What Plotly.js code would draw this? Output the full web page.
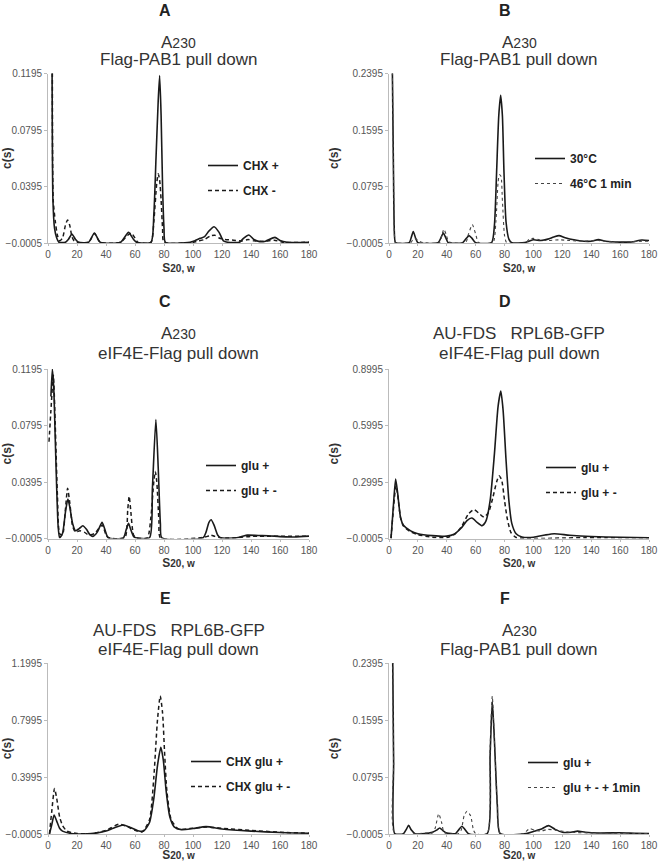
<!DOCTYPE html>
<html lang="en">
<head>
    <meta charset="UTF-8">
    <title>c(s) distributions</title>
    <script src="https://cdn.plot.ly/plotly-3.0.1.min.js"></script>
    <style>
        body { margin: 0; background: #fff; }
        #chart { width: 660px; height: 862px; }
    </style>
</head>
<body>
<div id="chart"></div>
<script>
    // panel A: Flag-PAB1 pull down, CHX + / CHX -
    var aSolidX = [2.8, 3.4, 4.5, 6, 7.5, 12, 14, 16.5, 19, 21, 28, 32, 36, 50, 55.5, 59, 61, 71, 73, 74.5, 76, 77, 78, 79, 80, 81, 98, 101, 105, 108, 111, 114.5, 118, 121, 124, 132, 135, 138.5, 142, 146, 150, 156.5, 160, 165, 180];
    var aSolidY = [0.13, 0.03, 0.01, 0.003, 0, 0, 0.002, 0.0058, 0.002, 0, 0, 0.0066, 0, 0, 0.007, 0.002, 0, 0, 0.02, 0.06, 0.1, 0.118, 0.09, 0.04, 0.01, 0, 0, 0.001, 0.0028, 0.004, 0.008, 0.011, 0.007, 0.001, 0, 0, 0.003, 0.0052, 0.002, 0.0005, 0.0008, 0.0035, 0.0012, 0, 0];
    var aDashX = [3, 3.6, 5, 6.5, 8, 10, 12, 13.5, 15, 16.5, 18, 20, 28, 32, 36, 50, 55, 57.5, 60, 62, 71, 73, 75, 76, 77, 78, 79, 80, 100, 104, 108, 112, 115, 118, 122, 128, 134, 138, 142, 150, 156, 162, 180];
    var aDashY = [0.13, 0.03, 0.015, 0.005, 0.001, 0.003, 0.012, 0.0158, 0.012, 0.004, 0.001, 0, 0, 0.0062, 0, 0, 0.005, 0.0065, 0.003, 0, 0, 0.015, 0.042, 0.0485, 0.044, 0.03, 0.01, 0, 0, 0.001, 0.002, 0.0045, 0.005, 0.003, 0.002, 0.0015, 0.001, 0.002, 0.001, 0.0008, 0.0015, 0, 0];

    // panel B: Flag-PAB1 pull down, 30°C / 46°C 1 min
    var bSolidX = [2.3, 3, 3.8, 4.5, 14, 15.5, 16.8, 18.5, 20, 34, 36, 37.6, 39.5, 41, 51, 53.5, 55.4, 57.5, 60, 71, 73, 74.5, 76, 77.3, 78.5, 79.6, 81, 83, 85, 94, 97, 100, 105, 110, 114, 117.7, 122, 128, 135, 140, 145, 150, 160, 168, 175, 180];
    var bSolidY = [0.25, 0.12, 0.01, 0, 0, 0.008, 0.0156, 0.006, 0, 0, 0.007, 0.0137, 0.006, 0, 0, 0.006, 0.01, 0.006, 0, 0, 0.025, 0.1, 0.18, 0.2086, 0.18, 0.1, 0.03, 0.005, 0, 0, 0.002, 0.004, 0.003, 0.005, 0.008, 0.01, 0.007, 0.004, 0.002, 0.002, 0.0043, 0.002, 0.0008, 0.001, 0.0038, 0.003];
    var bDotX = [2.3, 3, 3.8, 4.5, 15, 16.5, 18, 20, 22, 24, 35, 36.5, 38, 39.5, 41.5, 53, 55, 57.7, 60, 62, 72, 74, 75.5, 76.4, 77.5, 78.5, 80, 81.5, 95, 97, 100, 104, 110, 118, 125, 135, 145, 155, 165, 175, 180];
    var bDotY = [0.25, 0.12, 0.01, 0, 0, 0.004, 0.006, 0.003, 0.001, 0, 0, 0.01, 0.019, 0.012, 0.001, 0, 0.012, 0.0255, 0.012, 0, 0, 0.03, 0.085, 0.096, 0.094, 0.06, 0.01, 0, 0, 0.005, 0.006, 0.004, 0.003, 0.004, 0.003, 0.002, 0.003, 0.001, 0.001, 0.002, 0.002];

    // panel C: eIF4E-Flag pull down, glu + / glu + -
    var cSolidX = [2, 3, 4, 5, 6, 7, 8, 10, 12, 13.7, 15, 17, 19, 21.5, 24, 26.5, 29, 31, 34, 37.3, 39.5, 41.5, 52, 54, 55.5, 57, 59, 60.5, 70, 72, 74.4, 76, 77.5, 78.5, 107, 109, 111, 112.5, 114.5, 117, 119, 130, 134, 137.5, 145, 152, 160, 170, 180];
    var cSolidY = [0.1, 0.1195, 0.105, 0.07, 0.035, 0.008, 0, 0.003, 0.018, 0.0275, 0.022, 0.01, 0.005, 0.0065, 0.0085, 0.006, 0.002, 0.001, 0.004, 0.011, 0.005, 0, 0, 0.006, 0.0102, 0.006, 0.001, 0, 0, 0.035, 0.0838, 0.05, 0.01, 0, 0, 0.004, 0.011, 0.0128, 0.009, 0.002, 0, 0, 0.001, 0.0019, 0.0016, 0.0015, 0.0008, 0.0006, 0.0012];
    var cDashX = [0.7, 2, 3.7, 5, 6.5, 8, 10, 12, 13.5, 15, 17, 19, 22, 25, 28, 32, 35, 37.5, 40, 42, 53, 55, 56, 57, 59, 61, 68.5, 71, 73, 74, 75, 76.5, 77.5, 105, 110, 112, 115, 120, 130, 140, 180];
    var cDashY = [0.068, 0.09, 0.115, 0.08, 0.03, 0.003, 0.002, 0.02, 0.035, 0.025, 0.008, 0.004, 0.005, 0.004, 0.002, 0.003, 0.0065, 0.009, 0.002, 0, 0, 0.02, 0.0295, 0.02, 0.002, 0, 0, 0.015, 0.04, 0.047, 0.04, 0.012, 0, 0, 0.001, 0.002, 0.001, 0, 0, 0.001, 0.001];

    // panel D: AU-FDS RPL6B-GFP, eIF4E-Flag pull down, glu + / glu + -
    var dSolidX = [1.4, 3, 4.6, 6, 8, 10, 15, 20, 30, 40, 45, 50, 54, 57.4, 61, 64.4, 67, 70, 73, 75.5, 77.4, 79, 81, 83, 85, 88, 92, 100, 108, 114.4, 125, 140, 160, 180];
    var dSolidY = [0, 0.17, 0.315, 0.24, 0.11, 0.07, 0.04, 0.025, 0.015, 0.012, 0.022, 0.055, 0.095, 0.108, 0.085, 0.067, 0.09, 0.2, 0.45, 0.7, 0.782, 0.68, 0.42, 0.2, 0.08, 0.025, 0.008, 0.006, 0.018, 0.025, 0.017, 0.01, 0.006, 0.003];
    var dDashX = [1.4, 3, 4.8, 6, 8, 10, 15, 20, 30, 40, 45, 50, 55, 58.8, 62, 65.8, 69, 72, 74.5, 76.2, 78, 80, 82, 84.5, 88, 95, 110, 120, 135, 150, 165, 180];
    var dDashY = [0, 0.15, 0.28, 0.23, 0.11, 0.065, 0.035, 0.02, 0.006, 0.005, 0.02, 0.06, 0.13, 0.153, 0.135, 0.113, 0.14, 0.22, 0.3, 0.333, 0.31, 0.2, 0.1, 0.03, 0.005, 0, 0, 0.002, 0.004, 0.004, 0.003, 0.003];

    // panel E: AU-FDS RPL6B-GFP, eIF4E-Flag pull down, CHX glu + / CHX glu + -
    var eSolidX = [1, 2.5, 4.2, 6, 8, 10, 15, 20, 30, 40, 45, 51.7, 57, 62, 66, 70, 73, 75.5, 77.8, 79.5, 81.5, 84, 87, 92, 100, 109, 120, 140, 160, 180];
    var eSolidY = [0, 0.06, 0.133, 0.09, 0.04, 0.02, 0.005, 0, 0.002, 0.02, 0.04, 0.063, 0.045, 0.022, 0.02, 0.08, 0.25, 0.48, 0.608, 0.52, 0.3, 0.12, 0.05, 0.03, 0.038, 0.051, 0.035, 0.02, 0.01, 0.005];
    var eDashX = [1, 2.5, 4.5, 6, 8, 10, 13, 20, 30, 40, 48.9, 55, 60, 65, 70, 73, 75.5, 77.4, 79, 80.5, 82, 85, 90, 100, 110, 120, 140, 160, 180];
    var eDashY = [0, 0.15, 0.318, 0.25, 0.12, 0.06, 0.02, 0.003, 0.002, 0.025, 0.068, 0.05, 0.025, 0.015, 0.1, 0.4, 0.8, 0.968, 0.85, 0.55, 0.3, 0.1, 0.035, 0.04, 0.048, 0.04, 0.025, 0.012, 0.005];

    // panel F: Flag-PAB1 pull down, glu + / glu + - + 1min
    var fSolidX = [2.5, 3.2, 4, 10, 12, 13.6, 15.5, 18, 25, 30, 33, 35.1, 37.5, 40, 46, 48.5, 50.5, 52.5, 55, 68, 70, 71.5, 73, 75, 77, 95, 100, 105, 110.5, 115, 120, 126, 130.5, 136, 145, 160, 170, 180];
    var fSolidY = [0.26, 0.1, 0, 0, 0.006, 0.0117, 0.005, 0, 0, 0.002, 0.005, 0.008, 0.004, 0.001, 0, 0.006, 0.0103, 0.006, 0, 0, 0.11, 0.186, 0.13, 0.04, 0, 0, 0.003, 0.006, 0.0112, 0.006, 0.002, 0.002, 0.0035, 0.002, 0.001, 0.0012, 0.0005, 0];
    var fDotX = [2.5, 3.2, 4, 20, 25, 30, 32, 34.4, 36.5, 38, 40, 48, 50, 52, 54, 56.5, 58.5, 60, 68, 70, 71.5, 73, 75, 77, 93, 97.4, 102, 106, 110, 115, 125, 140, 180];
    var fDotY = [0.26, 0.1, 0, 0, 0.001, 0.001, 0.008, 0.028, 0.015, 0.002, 0, 0, 0.005, 0.025, 0.0314, 0.025, 0.005, 0, 0, 0.12, 0.193, 0.13, 0.04, 0, 0, 0.007, 0.004, 0.004, 0.006, 0.005, 0.002, 0.001, 0];

    var panelLetters = ['A', 'B', 'C', 'D', 'E', 'F'];
    var titleLine1 = [
        'A<span style="font-size:14px">230</span>',
        'A<span style="font-size:14px">230</span>',
        'A<span style="font-size:14px">230</span>',
        'AU-FDS\u00a0\u00a0\u00a0RPL6B-GFP',
        'AU-FDS\u00a0\u00a0\u00a0RPL6B-GFP',
        'A<span style="font-size:14px">230</span>'
    ];
    var titleLine2 = ['Flag-PAB1 pull down', 'Flag-PAB1 pull down', 'eIF4E-Flag pull down',
        'eIF4E-Flag pull down', 'eIF4E-Flag pull down', 'Flag-PAB1 pull down'];
    var seriesNames = [
        ['CHX +', 'CHX -'],
        ['30°C', '46°C 1 min'],
        ['glu +', 'glu + -'],
        ['glu +', 'glu + -'],
        ['CHX glu +', 'CHX glu + -'],
        ['glu +', 'glu + - + 1min']
    ];
    var yTop = [0.1195, 0.2395, 0.1195, 0.8995, 1.1995, 0.2395];
    var yStep = [0.04, 0.08, 0.04, 0.3, 0.4, 0.08];
    var xTickVals = [0, 20, 40, 60, 80, 100, 120, 140, 160, 180];

    var series = [
        [aSolidX, aSolidY, aDashX, aDashY],
        [bSolidX, bSolidY, bDotX, bDotY],
        [cSolidX, cSolidY, cDashX, cDashY],
        [dSolidX, dSolidY, dDashX, dDashY],
        [eSolidX, eSolidY, eDashX, eDashY],
        [fSolidX, fSolidY, fDotX, fDotY]
    ];
    var secondStyle = ['dash', 'dot', 'dash', 'dash', 'dash', 'dot'];

    // pixel layout of the 2x3 grid
    var W = 660, H = 862;
    var colPx = [[48, 309], [389, 649]];
    var rowPx = [[73.5, 243], [369, 538.5], [663, 834]];
    var legendPx = [[203, 151], [530, 144], [201, 451], [541, 453], [186, 747], [523, 748]];

    function px(x) { return x / W; }
    function py(y) { return 1 - y / H; }

    var font = '"Liberation Sans", Arial, sans-serif';
    var traces = [];
    var layout = {
        width: W, height: H,
        margin: {l: 0, r: 0, t: 0, b: 0},
        paper_bgcolor: '#fff',
        plot_bgcolor: '#fff',
        font: {family: font, color: '#222'},
        annotations: [],
        showlegend: true
    };

    for (var i = 0; i < 6; i++) {
        var col = i % 2, row = Math.floor(i / 2);
        var n = i === 0 ? '' : String(i + 1);
        var xa = 'xaxis' + n, ya = 'yaxis' + n;
        var lg = 'legend' + n;

        traces.push({
            x: series[i][0], y: series[i][1], xaxis: 'x' + n, yaxis: 'y' + n,
            type: 'scatter', mode: 'lines', name: seriesNames[i][0],
            line: {color: '#1a1a1a', width: 1.6, shape: 'spline', smoothing: 0.6},
            legend: lg, legendgroup: 'g' + i + 'a'
        });
        traces.push({
            x: series[i][2], y: series[i][3], xaxis: 'x' + n, yaxis: 'y' + n,
            type: 'scatter', mode: 'lines', name: seriesNames[i][1],
            line: secondStyle[i] === 'dash'
                ? {color: '#1a1a1a', width: 1.5, dash: '4px,3px', shape: 'spline', smoothing: 0.6}
                : {color: '#444', width: 1.1, dash: 'dot', shape: 'spline', smoothing: 0.6},
            legend: lg, legendgroup: 'g' + i + 'b'
        });

        layout[xa] = {
            domain: [px(colPx[col][0]), px(colPx[col][1])],
            anchor: 'y' + n,
            range: [0, 180],
            tickvals: xTickVals,
            ticks: 'outside', ticklen: 2, tickcolor: '#bbb',
            showline: true, linecolor: '#bbb', linewidth: 1,
            showgrid: false, zeroline: false,
            tickfont: {size: 10, color: '#555'},
            title: {
                text: '<b>S<span style="font-size:10px">20, w</span></b>',
                font: {size: 12, color: '#333'},
                standoff: 4
            }
        };
        layout[ya] = {
            domain: [py(rowPx[row][1]), py(rowPx[row][0])],
            anchor: 'x' + n,
            range: [-0.0005, yTop[i]],
            tick0: -0.0005, dtick: yStep[i], tickformat: '.4f',
            ticks: 'outside', ticklen: 3, tickcolor: '#bbb',
            showline: true, linecolor: '#bbb', linewidth: 1,
            showgrid: false, zeroline: false,
            tickfont: {size: 10, color: '#555'},
            title: {text: '<b>c(s)</b>', font: {size: 12, color: '#333'}, standoff: 5}
        };
        layout[lg] = {
            x: px(legendPx[i][0]), y: py(legendPx[i][1]),
            xanchor: 'left', yanchor: 'top',
            bgcolor: 'rgba(0,0,0,0)',
            font: {size: 12, color: '#222', weight: 'bold', family: font},
            tracegroupgap: 6,
            itemwidth: 30,
            itemclick: false, itemdoubleclick: false
        };

        var cx = (colPx[col][0] + colPx[col][1]) / 2;
        var cellTop = row === 0 ? 0 : (row === 1 ? 290 : 580);
        var letterY = row === 2 ? 598 : cellTop + 11;
        var sub1Y = row === 0 ? 42 : (row === 1 ? 333 : 630);
        var sub2Y = row === 0 ? 60 : (row === 1 ? 354 : 649);

        layout.annotations.push({
            text: '<b>' + panelLetters[i] + '</b>', showarrow: false,
            xref: 'paper', yref: 'paper', x: px(165 + col * 340), y: py(letterY),
            xanchor: 'center', yanchor: 'middle',
            font: {size: 16, color: '#222'}
        });
        layout.annotations.push({
            text: titleLine1[i], showarrow: false,
            xref: 'paper', yref: 'paper', x: px(cx), y: py(sub1Y),
            xanchor: 'center', yanchor: 'middle',
            font: {size: 17, color: '#333'}
        });
        layout.annotations.push({
            text: titleLine2[i], showarrow: false,
            xref: 'paper', yref: 'paper', x: px(cx), y: py(sub2Y),
            xanchor: 'center', yanchor: 'middle',
            font: {size: 17, color: '#333'}
        });
    }

    Plotly.newPlot('chart', traces, layout, {staticPlot: true});
</script>
</body>
</html>
